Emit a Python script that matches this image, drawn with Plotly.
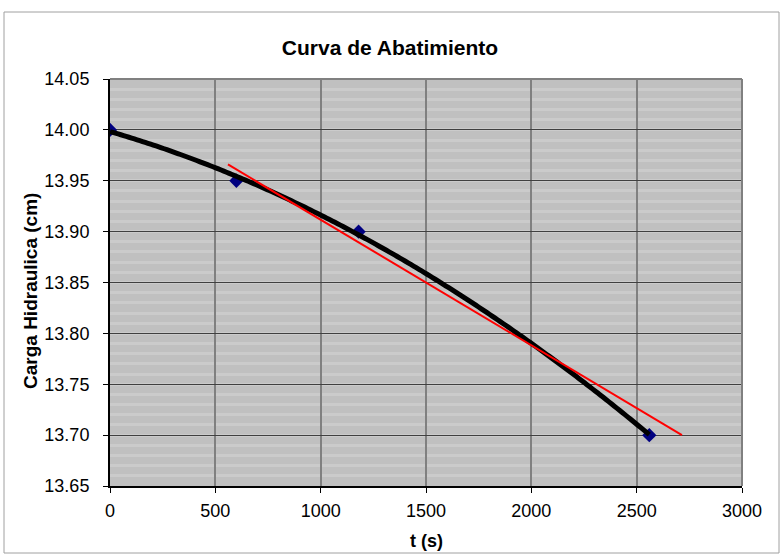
import numpy as np
import plotly.graph_objs as go

# measured data
t_s = [0, 600, 1180, 2560]
carga_cm = [14.00, 13.95, 13.90, 13.70]

# red straight line drawn over the chart (end points)
linea_t = [560, 2715]
linea_carga = [13.966, 13.700]

x_ticks = [0, 500, 1000, 1500, 2000, 2500, 3000]
y_ticks = [13.65, 13.70, 13.75, 13.80, 13.85, 13.90, 13.95, 14.00, 14.05]

# 2nd order polynomial trendline (as in the spreadsheet)
coef = np.polyfit(t_s, carga_cm, 2)
t_fit = np.linspace(min(t_s), max(t_s), 200)
carga_fit = np.polyval(coef, t_fit)

FONT = "Liberation Sans, Arial, sans-serif"
W, H = 783, 558
L, R, T, B = 110, 41, 79, 72
PW, PH = W - L - R, H - T - B

puntos = go.Scatter(x=t_s, y=carga_cm, mode='markers',
                    marker={'symbol': 'diamond', 'size': 11, 'color': '#000080'},
                    showlegend=False)
tendencia = go.Scatter(x=t_fit, y=carga_fit, mode='lines',
                       line={'color': 'black', 'width': 5, 'simplify': False},
                       showlegend=False)
recta = go.Scatter(x=linea_t, y=linea_carga, mode='lines',
                   line={'color': 'red', 'width': 2},
                   showlegend=False)

layout = go.Layout(
    width=W, height=H,
    margin={'l': L, 'r': R, 't': T, 'b': B},
    paper_bgcolor='white', plot_bgcolor='#c0c0c0',
    font={'family': FONT, 'size': 18, 'color': 'black'},
    title={'text': '<b>Curva de Abatimiento</b>', 'xref': 'container', 'x': 390 / W,
           'xanchor': 'center', 'yref': 'container', 'y': 1 - 48 / H, 'yanchor': 'middle',
           'font': {'size': 21, 'family': FONT}},
    xaxis={'range': [0, 3000], 'tickvals': x_ticks, 'ticktext': [str(v) for v in x_ticks],
           'showgrid': True, 'gridcolor': '#808080', 'gridwidth': 2,
           'zeroline': False, 'showline': True, 'linecolor': 'black', 'linewidth': 2,
           'ticks': 'outside', 'ticklen': 5, 'tickcolor': 'black',
           'ticklabelstandoff': 2},
    yaxis={'range': [13.65, 14.05], 'tickvals': y_ticks,
           'ticktext': ['%.2f' % v for v in y_ticks],
           'showgrid': True, 'gridcolor': '#404040', 'gridwidth': 1,
           'minor': {'dtick': 0.01, 'showgrid': True, 'gridcolor': '#cbcbcb', 'gridwidth': 3},
           'zeroline': False, 'showline': True, 'linecolor': 'black', 'linewidth': 2,
           'ticks': 'outside', 'ticklen': 5, 'tickcolor': 'black',
           'ticklabelstandoff': 10},
    shapes=[
        # top / right border of plot area
        {'type': 'line', 'xref': 'paper', 'yref': 'paper', 'x0': 0, 'x1': 1, 'y0': 1, 'y1': 1,
         'line': {'color': '#808080', 'width': 2}},
        {'type': 'line', 'xref': 'paper', 'yref': 'paper', 'x0': 1, 'x1': 1, 'y0': 0, 'y1': 1,
         'line': {'color': '#808080', 'width': 2}},
        # chart outer frame
        {'type': 'rect', 'xref': 'paper', 'yref': 'paper',
         'x0': (4 - L) / PW, 'x1': (779 - L) / PW,
         'y0': (H - B - 553) / PH, 'y1': (H - B - 12) / PH,
         'line': {'color': '#a0a0a0', 'width': 1}, 'layer': 'below'},
    ],
    annotations=[
        {'text': '<b>Carga Hidraulica (cm)</b>', 'xref': 'paper', 'yref': 'paper',
         'x': (30 - L) / PW, 'y': (H - B - 291) / PH, 'textangle': -90, 'showarrow': False,
         'xanchor': 'center', 'yanchor': 'middle', 'font': {'size': 19}},
        {'text': '<b>t (s)</b>', 'xref': 'paper', 'yref': 'paper',
         'x': 0.5, 'y': (H - B - 541) / PH, 'showarrow': False,
         'xanchor': 'center', 'yanchor': 'middle', 'font': {'size': 18}},
    ],
)

fig = go.Figure(data=[puntos, tendencia, recta], layout=layout)
fig.write_html("out.html", config={'displayModeBar': False},
               post_script="document.body.style.margin='0px';")
